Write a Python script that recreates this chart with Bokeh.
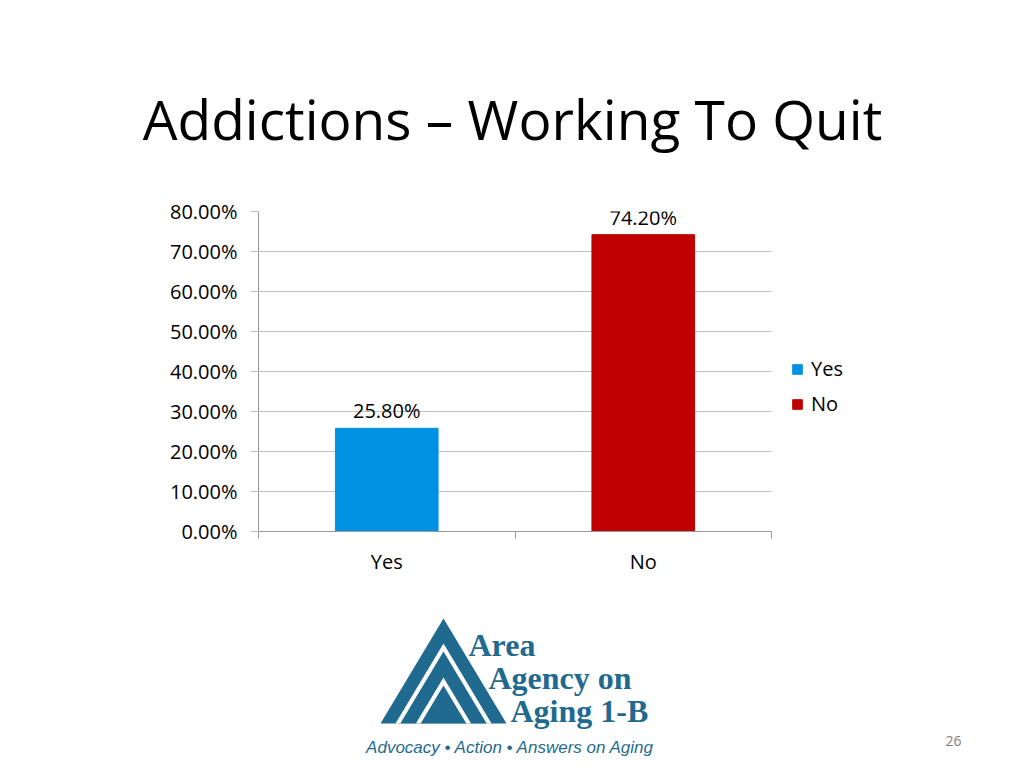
from bokeh.plotting import figure
from bokeh.models import (ColumnDataSource, Range1d, FixedTicker, NumeralTickFormatter,
                          LabelSet, Legend, LegendItem)
from bokeh.core.properties import value
from bokeh.embed import file_html
from bokeh.resources import INLINE

# ---------------- data ----------------
categories = ["Yes", "No"]
values = [0.258, 0.742]
bar_colors = ["#0091E1", "#C00000"]
y_ticks = [0.0, 0.1, 0.2, 0.3, 0.4, 0.5, 0.6, 0.7, 0.8]
title_text = "Addictions \u2013 Working To Quit"
page_number = "26"
logo_lines = ["Area", "Agency on", "Aging 1-B"]
logo_tagline = "Advocacy \u2022 Action \u2022 Answers on Aging"

FONT = "Open Sans"
LOGO_BLUE = "#1F6A8E"
W = 1008

# page-pixel layout
TOP_H = 190
CH_TOP, CH_BOT = 190, 600
FL, FR, FT, FB = 258, 771, 211, 531
LOGO_TOP, LOGO_BOT = 600, 760


def deco_fig(y0, y1):
    f = figure(width=W, height=y1 - y0, output_backend="svg", toolbar_location=None,
               x_range=Range1d(0, W), y_range=Range1d(y1, y0),
               x_axis_type=None, y_axis_type=None,
               min_border_left=0, min_border_right=0,
               min_border_top=0, min_border_bottom=0)
    f.outline_line_color = None
    f.grid.visible = False
    f.background_fill_color = "white"
    f.border_fill_color = "white"
    return f


# ---------------- title band ----------------
pt = deco_fig(0, TOP_H)
pt.text(x=[512], y=[118], text=[title_text], text_align="center", text_baseline="alphabetic",
        text_font=value(FONT), text_font_size="55px", text_color="#000000")

# ---------------- chart ----------------
x_pos = [i + 0.5 for i in range(len(categories))]
src = ColumnDataSource(dict(
    x=x_pos, top=values, color=bar_colors, cat=categories,
    txt=[f"{v * 100:.2f}%" for v in values],
))

p = figure(frame_width=FR - FL, frame_height=FB - FT, output_backend="svg", toolbar_location=None,
           x_range=Range1d(0, len(categories)), y_range=Range1d(0, 0.8),
           min_border_left=FL, min_border_right=W - FR,
           min_border_top=FT - CH_TOP, min_border_bottom=CH_BOT - FB)
p.outline_line_color = None
p.background_fill_color = "white"
p.border_fill_color = "white"

r = p.vbar(x="x", top="top", width=0.4, color="color", source=src)

xa = p.xaxis[0]
xa.ticker = FixedTicker(ticks=x_pos, minor_ticks=list(range(len(categories) + 1)))
xa.major_label_overrides = {x: c for x, c in zip(x_pos, categories)}
xa.major_tick_out = 0
xa.major_tick_in = 0
xa.minor_tick_out = 7
xa.minor_tick_in = 0
xa.minor_tick_line_color = "#9A9A9A"
xa.axis_line_color = "#9A9A9A"
xa.major_label_text_font = FONT
xa.major_label_text_font_size = "20px"
xa.major_label_text_color = "#000000"
xa.major_label_standoff = 9

ya = p.yaxis[0]
ya.ticker = FixedTicker(ticks=y_ticks, minor_ticks=[])
ya.formatter = NumeralTickFormatter(format="0.00%")
ya.major_tick_out = 8
ya.major_tick_in = 0
ya.major_tick_line_color = "#BFBFBF"
ya.axis_line_color = "#9A9A9A"
ya.major_label_text_font = FONT
ya.major_label_text_font_size = "20px"
ya.major_label_text_color = "#000000"
ya.major_label_standoff = 13

p.xgrid.visible = False
p.ygrid.ticker = FixedTicker(ticks=y_ticks, minor_ticks=[])
p.ygrid.grid_line_color = "#BFBFBF"

p.add_layout(LabelSet(x="x", y="top", text="txt", source=src, y_offset=10,
                      text_align="center", text_baseline="alphabetic",
                      text_font=value(FONT), text_font_size="20px", text_color="#000000"))

legend = Legend(items=[LegendItem(label=c, renderers=[r], index=i) for i, c in enumerate(categories)],
                location=(20, 114), orientation="vertical",
                glyph_width=12, glyph_height=12, label_height=20, spacing=8,
                label_standoff=8, padding=0, margin=0,
                border_line_color=None, background_fill_alpha=0,
                label_text_font=FONT, label_text_font_size="20px", label_text_color="#000000")
p.add_layout(legend, "right")

# ---------------- logo band ----------------
pl = deco_fig(LOGO_TOP, LOGO_BOT)
base_y = 723
apex_x = 443
slope = 0.6
for apex_y, col in [(618, LOGO_BLUE), (643, "white"), (651, LOGO_BLUE), (677, "white"), (685, LOGO_BLUE)]:
    hw = (base_y - apex_y) * slope
    pl.patch(x=[apex_x, apex_x - hw, apex_x + hw], y=[apex_y, base_y, base_y],
             fill_color=col, line_color=None)

pl.text(x=[468, 488, 510], y=[644, 677, 710], text=logo_lines,
        text_align="left", text_baseline="alphabetic",
        text_font=value("Liberation Serif"), text_font_style="bold",
        text_font_size="32px", text_color=LOGO_BLUE)
pl.text(x=[510], y=[747], text=[logo_tagline], text_align="center", text_baseline="alphabetic",
        text_font=value("Liberation Sans"), text_font_style="italic",
        text_font_size="17px", text_color=LOGO_BLUE)
pl.text(x=[953], y=[740], text=[page_number], text_align="center", text_baseline="alphabetic",
        text_font=value(FONT), text_font_size="14px", text_color="#7F7F7F")

open("out.html", "w").write(file_html([pt, p, pl], INLINE))
